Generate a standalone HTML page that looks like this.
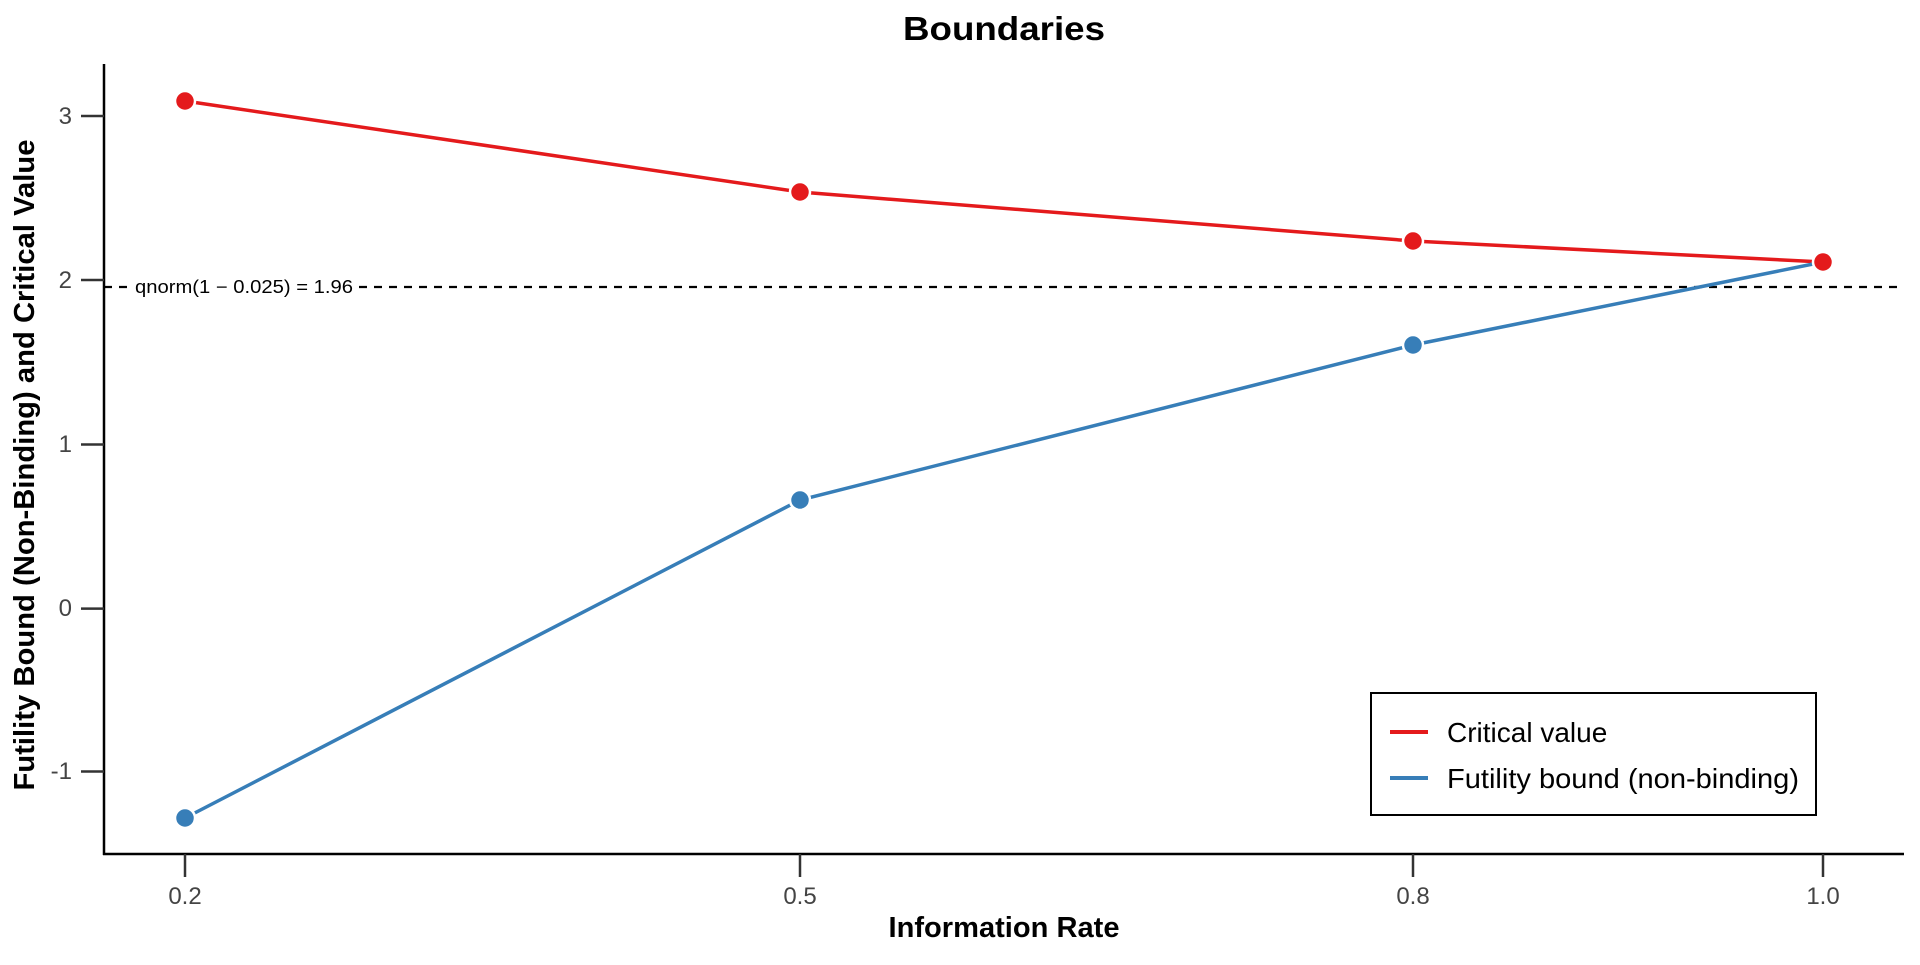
<!DOCTYPE html>
<html><head><style>body{margin:0;background:#fff}</style></head><body>
<svg width="1920" height="960" xmlns="http://www.w3.org/2000/svg" font-family="Liberation Sans, sans-serif">
<rect width="1920" height="960" fill="#fff"/>
<text x="1004" y="40" font-size="33" font-weight="bold" text-anchor="middle" textLength="202" lengthAdjust="spacingAndGlyphs">Boundaries</text>
<line x1="104" y1="64" x2="104" y2="855" stroke="#000" stroke-width="2.5"/>
<line x1="103" y1="854" x2="1904" y2="854" stroke="#000" stroke-width="2.5"/>
<g stroke="#333" stroke-width="2.5">
<line x1="185" y1="854" x2="185" y2="877"/><line x1="800" y1="854" x2="800" y2="877"/><line x1="1413" y1="854" x2="1413" y2="877"/><line x1="1823" y1="854" x2="1823" y2="877"/>
<line x1="81" y1="116" x2="104" y2="116"/><line x1="81" y1="280" x2="104" y2="280"/><line x1="81" y1="444.5" x2="104" y2="444.5"/><line x1="81" y1="608.6" x2="104" y2="608.6"/><line x1="81" y1="771.5" x2="104" y2="771.5"/>
</g>
<g font-size="24" fill="#444" text-anchor="middle">
<text x="185" y="904">0.2</text><text x="800" y="904">0.5</text><text x="1413" y="904">0.8</text><text x="1823" y="904">1.0</text>
</g>
<g font-size="24" fill="#444" text-anchor="end">
<text x="72" y="124">3</text><text x="72" y="288">2</text><text x="72" y="452">1</text><text x="72" y="616">0</text><text x="72" y="779">-1</text>
</g>
<text x="1004" y="937" font-size="29" font-weight="bold" text-anchor="middle" textLength="231" lengthAdjust="spacingAndGlyphs">Information Rate</text>
<text transform="translate(34,465) rotate(-90)" font-size="29" font-weight="bold" text-anchor="middle" textLength="651" lengthAdjust="spacingAndGlyphs">Futility Bound (Non-Binding) and Critical Value</text>
<line x1="104" y1="287" x2="1904" y2="287" stroke="#000" stroke-width="2.2" stroke-dasharray="8,7"/>
<rect x="132" y="272" width="224" height="28" fill="#fff"/>
<text x="135" y="293" font-size="18" textLength="218" lengthAdjust="spacingAndGlyphs">qnorm(1 − 0.025) = 1.96</text>
<polyline points="185,101 800,192 1413,241 1823,262" fill="none" stroke="#e41a1c" stroke-width="3.5"/>
<polyline points="185,818 800,500 1413,345 1823,262" fill="none" stroke="#377eb8" stroke-width="3.5"/>
<g stroke="#fff" stroke-width="2.5">
<circle cx="185" cy="818" r="10" fill="#377eb8"/><circle cx="800" cy="500" r="10" fill="#377eb8"/><circle cx="1413" cy="345" r="10" fill="#377eb8"/>
<circle cx="185" cy="101" r="10" fill="#e41a1c"/><circle cx="800" cy="192" r="10" fill="#e41a1c"/><circle cx="1413" cy="241" r="10" fill="#e41a1c"/><circle cx="1823" cy="262" r="10" fill="#e41a1c"/>
</g>
<rect x="1371" y="693" width="445" height="122" fill="#fff" stroke="#000" stroke-width="2"/>
<line x1="1390" y1="732" x2="1428" y2="732" stroke="#e41a1c" stroke-width="4"/>
<line x1="1390" y1="778" x2="1428" y2="778" stroke="#377eb8" stroke-width="4"/>
<text x="1447" y="742" font-size="28">Critical value</text>
<text x="1447" y="788" font-size="28" textLength="352" lengthAdjust="spacingAndGlyphs">Futility bound (non-binding)</text>
</svg>
</body></html>
